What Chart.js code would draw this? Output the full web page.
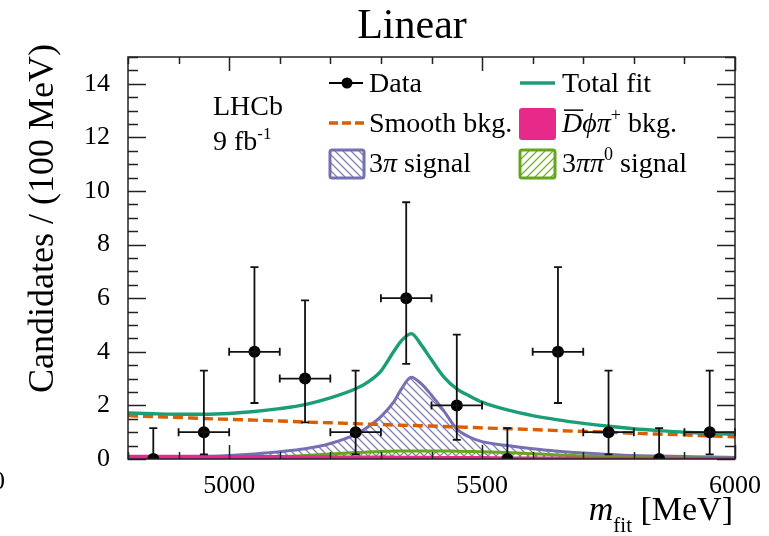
<!DOCTYPE html>
<html><head><meta charset="utf-8">
<script src="https://cdn.jsdelivr.net/npm/chart.js@4/dist/chart.umd.min.js"></script>
<style>html,body{margin:0;padding:0;background:#fff;overflow:hidden}canvas{display:block}</style>
</head><body>
<canvas id="c" width="769" height="536"></canvas>
<script>
// ---- Data ----
const binCenters = [4850, 4950, 5050, 5150, 5250, 5350, 5450, 5550, 5650, 5750, 5850, 5950];
const counts     = [0, 1, 4, 3, 1, 6, 2, 0, 4, 1, 0, 1];
const errLow     = [0, 0.17, 2.09, 1.37, 0.17, 3.55, 0.71, 0, 2.09, 0.17, 0, 0.17];
const errHigh    = [1.15, 3.30, 7.16, 5.92, 3.30, 9.58, 4.64, 1.15, 7.16, 3.30, 1.15, 3.30];
const binHalfWidth = 50;

const fitX      = [4800, 4850, 4900, 4950, 5000, 5050, 5100, 5150, 5200, 5250,
                   5275, 5300, 5325, 5340, 5360, 5380, 5400, 5425, 5450, 5475,
                   5500, 5550, 5600, 5650, 5700, 5750, 5800, 5850, 5900, 5950, 6000];
const totalFit  = [1.72, 1.69, 1.67, 1.67, 1.70, 1.77, 1.88, 2.03, 2.28, 2.62,
                   2.88, 3.28, 4.00, 4.40, 4.68, 4.25, 3.70, 3.05, 2.62, 2.35,
                   2.12, 1.83, 1.62, 1.46, 1.33, 1.22, 1.13, 1.06, 1.00, 0.96, 0.92];
const smoothBkg = [1.62, 1.58, 1.55, 1.51, 1.48, 1.45, 1.42, 1.38, 1.35, 1.32,
                   1.30, 1.29, 1.27, 1.26, 1.25, 1.24, 1.23, 1.21, 1.20, 1.18,
                   1.16, 1.13, 1.10, 1.06, 1.03, 1.00, 0.96, 0.93, 0.90, 0.86, 0.83];
const dphipiBkg = [0.12, 0.12, 0.12, 0.12, 0.11, 0.11, 0.11, 0.10, 0.10, 0.09,
                   0.09, 0.09, 0.09, 0.08, 0.08, 0.08, 0.08, 0.07, 0.07, 0.07,
                   0.07, 0.06, 0.06, 0.06, 0.05, 0.05, 0.05, 0.05, 0.04, 0.04, 0.04];
const sig3pi    = [0.03, 0.04, 0.06, 0.09, 0.13, 0.19, 0.27, 0.38, 0.58, 0.92,
                   1.20, 1.58, 2.12, 2.60, 3.05, 2.80, 2.38, 1.78, 1.12, 0.82,
                   0.65, 0.50, 0.38, 0.29, 0.22, 0.17, 0.13, 0.11, 0.09, 0.07, 0.06];
const sig3pipi0 = [0.00, 0.005, 0.01, 0.02, 0.03, 0.05, 0.08, 0.13, 0.19, 0.24,
                   0.26, 0.28, 0.29, 0.30, 0.30, 0.30, 0.30, 0.30, 0.29, 0.28,
                   0.27, 0.24, 0.20, 0.15, 0.11, 0.08, 0.06, 0.05, 0.04, 0.03, 0.03];

const xTickValues = [5000, 5500, 6000];
const yTickValues = [0, 2, 4, 6, 8, 10, 12, 14];
const xMinorStep = 100;
const yMinorStep = 0.5;

// ---- Styling ----
const SERIF = '"Liberation Serif", "Times New Roman", serif';
const C_TOTAL = '#1b9e77', C_BKG = '#d95f02', C_DPP = '#e7298a', C_3PI = '#7570b3', C_3PIPI0 = '#66a61e';

function hatch(color, dir) {
  const s = 8;
  const c = document.createElement('canvas'); c.width = s; c.height = s;
  const g = c.getContext('2d');
  g.strokeStyle = color; g.lineWidth = 1.3;
  g.beginPath();
  if (dir === 'back') {
    g.moveTo(-1, -1); g.lineTo(s + 1, s + 1);
    g.moveTo(-1, s - 1); g.lineTo(1, s + 1);
    g.moveTo(s - 1, -1); g.lineTo(s + 1, 1);
  } else {
    g.moveTo(-1, s + 1); g.lineTo(s + 1, -1);
    g.moveTo(-1, 1); g.lineTo(1, -1);
    g.moveTo(s - 1, s + 1); g.lineTo(s + 1, s - 1);
  }
  g.stroke();
  return g.createPattern(c, 'repeat');
}
const hatch3pi = hatch('rgba(117,112,179,0.9)', 'back');
const hatch3pipi0 = hatch('rgba(102,166,30,0.9)', 'fwd');

const pts = (xs, ys) => xs.map((x, i) => ({x: x, y: ys[i]}));

function richText(ctx, x, y, segs, size, measureOnly) {
  let cx = x;
  for (const s of segs) {
    const fs = s.sup || s.sub ? (s.fs || size * 0.62) : size;
    ctx.font = (s.it ? 'italic ' : '') + fs + 'px ' + SERIF;
    const yy = y - (s.sup ? size * (s.rise || 0.38) : 0) + (s.sub ? (s.drop || size * 0.3) : 0);
    const w = ctx.measureText(s.t).width;
    if (!measureOnly) {
      ctx.fillText(s.t, cx, yy);
      if (s.over) {
        ctx.save(); ctx.lineWidth = 1.5; ctx.strokeStyle = '#000';
        ctx.beginPath(); ctx.moveTo(cx + 2, yy - size * 0.78); ctx.lineTo(cx + w + 1, yy - size * 0.78); ctx.stroke();
        ctx.restore();
      }
    }
    cx += w + (s.after || 0);
  }
  return cx - x;
}

const overlay = {
  id: 'overlay',
  afterDraw(chart) {
    const ctx = chart.ctx;
    const xs = chart.scales.x, ys = chart.scales.y;
    const a = chart.chartArea;
    ctx.save();

    // Error bars
    ctx.strokeStyle = '#111'; ctx.lineWidth = 1.8;
    const cap = 4;
    for (let i = 0; i < binCenters.length; i++) {
      const px = xs.getPixelForValue(binCenters[i]);
      const py = ys.getPixelForValue(counts[i]);
      const pLo = ys.getPixelForValue(errLow[i]);
      const pHi = ys.getPixelForValue(errHigh[i]);
      ctx.beginPath();
      ctx.moveTo(px, pLo); ctx.lineTo(px, pHi);
      ctx.moveTo(px - cap, pHi); ctx.lineTo(px + cap, pHi);
      if (errLow[i] > 0) { ctx.moveTo(px - cap, pLo); ctx.lineTo(px + cap, pLo); }
      if (counts[i] > 0) {
        const xl = xs.getPixelForValue(binCenters[i] - binHalfWidth);
        const xr = xs.getPixelForValue(binCenters[i] + binHalfWidth);
        ctx.moveTo(xl, py); ctx.lineTo(xr, py);
        ctx.moveTo(xl, py - cap); ctx.lineTo(xl, py + cap);
        ctx.moveTo(xr, py - cap); ctx.lineTo(xr, py + cap);
      }
      ctx.stroke();
    }

    // Frame
    ctx.strokeStyle = '#222'; ctx.lineWidth = 1.5;
    ctx.strokeRect(a.left, a.top, a.right - a.left, a.bottom - a.top);

    // Inner ticks (ROOT style)
    ctx.lineWidth = 1.5;
    ctx.beginPath();
    for (let v = xs.min; v <= xs.max + 1e-6; v += xMinorStep) {
      const px = Math.round(xs.getPixelForValue(v)) + 0.5;
      const major = xTickValues.includes(v);
      const L = major ? 14 : 7;
      ctx.moveTo(px, a.bottom); ctx.lineTo(px, a.bottom - L);
      ctx.moveTo(px, a.top); ctx.lineTo(px, a.top + L);
    }
    for (let v = ys.min; v <= ys.max + 1e-6; v += yMinorStep) {
      const py = Math.round(ys.getPixelForValue(v)) + 0.5;
      const major = yTickValues.includes(v);
      const L = major ? 18 : 10;
      ctx.moveTo(a.left, py); ctx.lineTo(a.left + L, py);
      ctx.moveTo(a.right, py); ctx.lineTo(a.right - L, py);
    }
    ctx.stroke();

    // Title
    ctx.fillStyle = '#000';
    ctx.textBaseline = 'alphabetic';
    ctx.textAlign = 'center';
    ctx.font = '42px ' + SERIF;
    ctx.fillText('Linear', 412, 38);

    // Partial label of the neighbouring plot
    ctx.textAlign = 'left';
    ctx.font = '26px ' + SERIF;
    ctx.fillText('0', -8, 489);

    // Axis titles
    ctx.textAlign = 'left';
    const xt = [{t: 'm', it: true}, {t: 'fit', sub: true, fs: 21, drop: 12, after: 0}, {t: ' [MeV]'}];
    const wX = richText(ctx, 0, 0, xt, 34, true);
    richText(ctx, 733 - wX, 520, xt, 34);

    ctx.save();
    ctx.translate(53, 393);
    ctx.rotate(-Math.PI / 2);
    ctx.font = '36px ' + SERIF;
    ctx.fillText('Candidates / (100 MeV)', 0, 0);
    ctx.restore();

    // LHCb label
    ctx.font = '28px ' + SERIF;
    ctx.fillText('LHCb', 213, 115);
    richText(ctx, 213, 150, [{t: '9 fb'}, {t: '-1', sup: true, fs: 17, rise: 0.4}], 28);

    // Legend
    ctx.lineCap = 'butt';
    // Data
    ctx.strokeStyle = '#000'; ctx.lineWidth = 1.8;
    ctx.beginPath(); ctx.moveTo(329, 83); ctx.lineTo(363, 83); ctx.stroke();
    ctx.beginPath(); ctx.arc(347, 83, 5.5, 0, Math.PI * 2); ctx.fillStyle = '#000'; ctx.fill();
    ctx.font = '28px ' + SERIF;
    ctx.fillText('Data', 369, 92);
    // Total fit
    ctx.strokeStyle = C_TOTAL; ctx.lineWidth = 3.4;
    ctx.beginPath(); ctx.moveTo(520, 83); ctx.lineTo(555, 83); ctx.stroke();
    ctx.fillText('Total fit', 562, 92);
    // Smooth bkg
    ctx.strokeStyle = C_BKG; ctx.lineWidth = 3.4; ctx.setLineDash([9, 4]);
    ctx.beginPath(); ctx.moveTo(329, 123); ctx.lineTo(364, 123); ctx.stroke();
    ctx.setLineDash([]);
    ctx.fillText('Smooth bkg.', 369, 132);
    // D phi pi bkg
    ctx.fillStyle = C_DPP;
    ctx.beginPath(); ctx.roundRect(519, 108, 37, 32, 3); ctx.fill();
    ctx.fillStyle = '#000';
    richText(ctx, 562, 132, [{t: 'D', it: true, over: true}, {t: '\u03D5\u03C0', it: true}, {t: '+', sup: true, fs: 18, rise: 0.4}, {t: ' bkg.'}], 28);
    // 3pi signal
    ctx.fillStyle = hatch3pi;
    ctx.fillRect(330, 150, 34, 28);
    ctx.strokeStyle = C_3PI; ctx.lineWidth = 3;
    ctx.beginPath(); ctx.roundRect(330, 150, 34, 28, 2); ctx.stroke();
    ctx.fillStyle = '#000';
    richText(ctx, 369, 172, [{t: '3'}, {t: '\u03C0', it: true}, {t: ' signal'}], 28);
    // 3pi pi0 signal
    ctx.fillStyle = hatch3pipi0;
    ctx.fillRect(520, 150, 35, 28);
    ctx.strokeStyle = C_3PIPI0; ctx.lineWidth = 3;
    ctx.beginPath(); ctx.roundRect(520, 150, 35, 28, 2); ctx.stroke();
    ctx.fillStyle = '#000';
    richText(ctx, 562, 172, [{t: '3'}, {t: '\u03C0\u03C0', it: true}, {t: '0', sup: true, fs: 18, rise: 0.42}, {t: ' signal'}], 28);

    ctx.restore();
  }
};

const chart = new Chart(document.getElementById('c').getContext('2d'), {
  type: 'line',
  data: {
    datasets: [
      {label: 'Data', type: 'scatter', data: pts(binCenters, counts), pointRadius: 6, pointBackgroundColor: '#000', pointBorderColor: '#000', pointBorderWidth: 0, order: 0},
      {label: 'Total fit', data: pts(fitX, totalFit), borderColor: C_TOTAL, borderWidth: 3.4, fill: false, order: 1},
      {label: 'Dphipi bkg', data: pts(fitX, dphipiBkg), borderColor: C_DPP, backgroundColor: C_DPP, borderWidth: 2, fill: 'origin', order: 2},
      {label: 'Smooth bkg', data: pts(fitX, smoothBkg), borderColor: C_BKG, borderDash: [10, 5], borderWidth: 3.4, fill: false, order: 3},
      {label: '3pipi0 signal', data: pts(fitX, sig3pipi0), borderColor: C_3PIPI0, backgroundColor: hatch3pipi0, borderWidth: 3, fill: 'origin', order: 4},
      {label: '3pi signal', data: pts(fitX, sig3pi), borderColor: C_3PI, backgroundColor: hatch3pi, borderWidth: 3, fill: 'origin', order: 5}
    ]
  },
  options: {
    responsive: false,
    animation: false,
    devicePixelRatio: 1,
    layout: {padding: {top: 57, right: 34, left: 0, bottom: 0}},
    elements: {point: {radius: 0}, line: {cubicInterpolationMode: 'monotone'}},
    plugins: {legend: {display: false}, tooltip: {enabled: false}, title: {display: false}},
    scales: {
      x: {
        type: 'linear', min: 4800, max: 6000,
        afterBuildTicks: s => { s.ticks = xTickValues.map(v => ({value: v})); },
        afterFit: s => { s.height = 77; },
        grid: {display: false}, border: {display: false},
        ticks: {font: {family: SERIF, size: 26}, color: '#000', padding: 4, maxRotation: 0, autoSkip: false, callback: v => String(v)}
      },
      y: {
        type: 'linear', min: 0, max: 15,
        afterBuildTicks: s => { s.ticks = yTickValues.map(v => ({value: v})); },
        afterFit: s => { s.width = 128; },
        grid: {display: false}, border: {display: false},
        ticks: {font: {family: SERIF, size: 26}, color: '#000', padding: 10, autoSkip: false, callback: v => String(v)}
      }
    }
  },
  plugins: [overlay]
});
</script>
</body></html>
